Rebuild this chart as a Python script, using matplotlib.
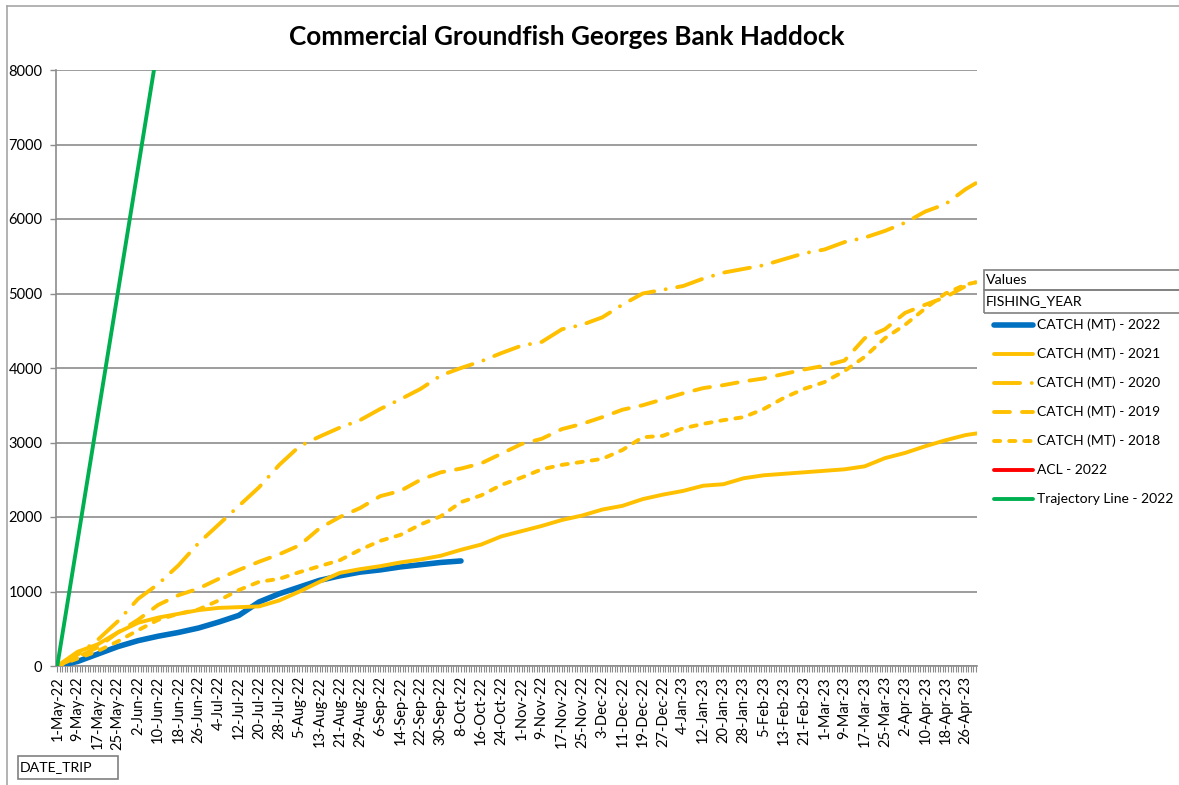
import numpy as np
import pandas as pd
import matplotlib
matplotlib.use("Agg")
import matplotlib.pyplot as plt
import matplotlib.dates as mdates
from matplotlib.lines import Line2D
from matplotlib.patches import Rectangle

plt.rcParams['font.family'] = ['Lato', 'DejaVu Sans']

# labelled categories on the DATE_TRIP axis (every 8th day, plus the last day)
sample_dates = pd.to_datetime([
    "2022-05-01", "2022-05-09", "2022-05-17", "2022-05-25", "2022-06-02", "2022-06-10",
    "2022-06-18", "2022-06-26", "2022-07-04", "2022-07-12", "2022-07-20", "2022-07-28",
    "2022-08-05", "2022-08-13", "2022-08-21", "2022-08-29", "2022-09-06", "2022-09-14",
    "2022-09-22", "2022-09-30", "2022-10-08", "2022-10-16", "2022-10-24", "2022-11-01",
    "2022-11-09", "2022-11-17", "2022-11-25", "2022-12-03", "2022-12-11", "2022-12-19",
    "2022-12-27", "2023-01-04", "2023-01-12", "2023-01-20", "2023-01-28", "2023-02-05",
    "2023-02-13", "2023-02-21", "2023-03-01", "2023-03-09", "2023-03-17", "2023-03-25",
    "2023-04-02", "2023-04-10", "2023-04-18", "2023-04-26", "2023-04-30"])

catch_2022 = [0, 60, 160, 260, 340, 400, 450, 510, 590, 680, 860, 970, 1060, 1150, 1210,
              1260, 1290, 1330, 1360, 1390, 1410]
catch_2021 = [0, 190, 290, 450, 580, 650, 700, 750, 780, 790, 800, 880, 1000, 1130, 1250,
              1300, 1340, 1390, 1430, 1480, 1560, 1630, 1740, 1810, 1880, 1960, 2020, 2100,
              2150, 2240, 2300, 2350, 2420, 2440, 2520, 2560, 2580, 2600, 2620, 2640, 2680,
              2790, 2860, 2950, 3030, 3100, 3120]
catch_2020 = [0, 150, 350, 600, 900, 1100, 1350, 1650, 1900, 2150, 2400, 2700, 2950, 3080,
              3200, 3300, 3450, 3580, 3720, 3900, 4000, 4090, 4200, 4300, 4350, 4520, 4580,
              4680, 4850, 5000, 5050, 5100, 5200, 5280, 5330, 5380, 5460, 5540, 5590, 5690,
              5750, 5840, 5950, 6100, 6200, 6400, 6480]
catch_2019 = [0, 120, 250, 450, 620, 820, 950, 1040, 1170, 1290, 1400, 1500, 1620, 1850,
              2000, 2120, 2280, 2350, 2500, 2600, 2650, 2720, 2850, 2980, 3050, 3180, 3250,
              3340, 3440, 3500, 3580, 3660, 3730, 3770, 3820, 3860, 3920, 3980, 4030, 4100,
              4400, 4520, 4740, 4850, 4950, 5100, 5150]
catch_2018 = [0, 100, 200, 330, 480, 620, 700, 760, 880, 1020, 1130, 1170, 1260, 1340, 1420,
              1560, 1680, 1760, 1900, 2010, 2200, 2290, 2430, 2530, 2640, 2700, 2740, 2780,
              2900, 3070, 3090, 3190, 3250, 3300, 3340, 3450, 3600, 3720, 3810, 3960, 4150,
              4400, 4580, 4800, 5000, 5120, 5150]

year_dates = pd.to_datetime(["2022-05-01", "2023-04-30"])
acl_2022 = [76000, 76000]
trajectory_2022 = [0, 76000]

blue = "#0070C0"
gold = "#FFC000"
red = "#FF0000"
green = "#00B050"
gray = "#8C8C8C"

dash_2020 = (6.7, 3, 0.01, 3)
dash_2019 = (4.1, 3.1)
dash_2018 = (1.6, 2.3)
lw_gold = 2.8
lw_blue = 4.0

W, H = 1179, 785
fig = plt.figure(figsize=(W / 100, H / 100), dpi=100)


def fx(x):
    return x / W


def fy(y):
    return 1 - y / H


ax = fig.add_axes([fx(56), fy(666), fx(977) - fx(56), fy(70) - fy(666)])

ax.plot(sample_dates[:len(catch_2022)], catch_2022, color=blue, lw=lw_blue,
        solid_capstyle="round", solid_joinstyle="round", zorder=3)
ax.plot(sample_dates, catch_2021, color=gold, lw=lw_gold, zorder=4)
ax.plot(sample_dates, catch_2020, color=gold, lw=lw_gold, dash_capstyle="round",
        dashes=dash_2020, zorder=4)
ax.plot(sample_dates, catch_2019, color=gold, lw=lw_gold, dash_capstyle="round",
        dashes=dash_2019, zorder=4)
ax.plot(sample_dates, catch_2018, color=gold, lw=lw_gold, dash_capstyle="round",
        dashes=dash_2018, zorder=4)
ax.plot(year_dates, acl_2022, color=red, lw=lw_gold, zorder=4)
ax.plot(year_dates, trajectory_2022, color=green, lw=lw_gold, zorder=4)

ax.set_ylim(0, 8000)
ax.set_yticks(np.arange(0, 8001, 1000))
ax.set_xlim(mdates.date2num(pd.Timestamp("2022-05-01")) - 0.5,
            mdates.date2num(pd.Timestamp("2023-04-30")) + 0.5)
ax.set_xticks(sample_dates[:-1])
ax.set_xticklabels([f"{d.day}-{d.strftime('%b-%y')}" for d in sample_dates[:-1]],
                   rotation=90, fontsize=10.5)
ax.xaxis.set_minor_locator(mdates.DayLocator())
ax.tick_params(axis="x", which="both", length=4.3, width=0.8, color=gray, pad=3)
ax.tick_params(axis="y", length=4.3, width=1.0, color=gray, pad=5.5, labelsize=10.5)

ax.grid(axis="y", color=gray, lw=1.2)
ax.set_axisbelow(True)
for s in ["top", "right"]:
    ax.spines[s].set_visible(False)
ax.spines["left"].set_color(gray)
ax.spines["left"].set_linewidth(1.2)
ax.spines["bottom"].set_color(gray)
ax.spines["bottom"].set_linewidth(1.2)

fig.text(fx(567), fy(37), "Commercial Groundfish Georges Bank Haddock",
         ha="center", va="center", fontsize=18.8, fontweight="bold")

# outer chart border
fig.add_artist(Line2D([fx(7), fx(7)], [fy(6), fy(785)], color="#A6A6A6", lw=1.2))
fig.add_artist(Line2D([fx(7), fx(1179)], [fy(6), fy(6)], color="#A6A6A6", lw=1.2))

# pivot field buttons
for x0, y0, x1, y1, label in [(984, 270, 1182, 290, "Values"),
                              (984, 290, 1182, 313, "FISHING_YEAR"),
                              (18, 756, 118, 779, "DATE_TRIP")]:
    fig.add_artist(Rectangle((fx(x0), fy(y1)), fx(x1) - fx(x0), fy(y0) - fy(y1),
                             fill=False, edgecolor="#808080", lw=1.2))
    fig.text(fx(x0 + 2), fy((y0 + y1) / 2), label, ha="left", va="center", fontsize=10.2)

# legend
legend_items = [
    ("CATCH (MT) - 2022", blue, lw_blue, None),
    ("CATCH (MT) - 2021", gold, lw_gold, None),
    ("CATCH (MT) - 2020", gold, lw_gold, dash_2020),
    ("CATCH (MT) - 2019", gold, lw_gold, dash_2019),
    ("CATCH (MT) - 2018", gold, lw_gold, dash_2018),
    ("ACL - 2022", red, lw_gold, None),
    ("Trajectory Line - 2022", green, lw_gold, None),
]
for i, (label, c, lw, dash) in enumerate(legend_items):
    yy = 325 + 29 * i
    kw = dict(color=c, lw=lw, solid_capstyle="round", dash_capstyle="round")
    if dash:
        kw["dashes"] = dash
    fig.add_artist(Line2D([fx(994), fx(1033)], [fy(yy), fy(yy)], **kw))
    fig.text(fx(1037), fy(yy), label, ha="left", va="center", fontsize=10)

fig.savefig("out.png", dpi=100)
